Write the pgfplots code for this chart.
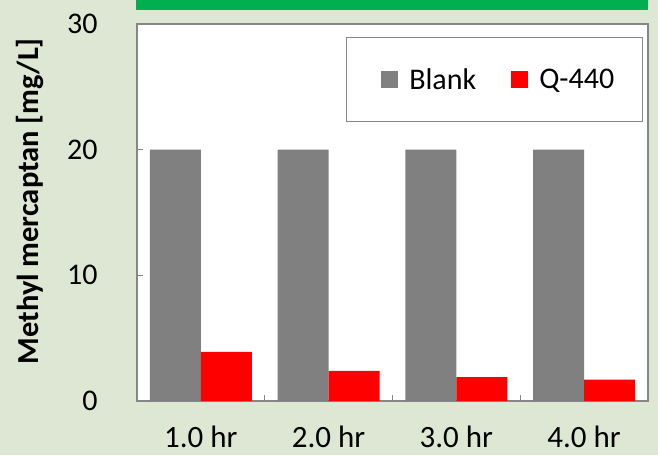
\documentclass[border=0pt]{standalone}
\usepackage{pgfplots}
\pgfplotsset{compat=1.18}
\usepackage{fontspec}
\setmainfont{Carlito}
\definecolor{bgc}{RGB}{222,230,212}
\definecolor{grn}{RGB}{0,176,80}
\definecolor{framec}{RGB}{134,134,134}
\definecolor{barg}{RGB}{128,128,128}
\definecolor{barr}{RGB}{255,0,0}
\begin{document}
\begin{tikzpicture}
\fill[bgc] (0pt,0pt) rectangle (658pt,455pt);
\useasboundingbox (0pt,0pt) rectangle (658pt,455pt);
\fill[grn] (136pt,445pt) rectangle (648pt,455pt);
\begin{axis}[
  at={(137pt,54pt)}, anchor=south west,
  scale only axis, width=511pt, height=377pt,
  xmin=0.5, xmax=4.5, ymin=0, ymax=30,
  ybar=0pt, bar width=51pt,
  axis background/.style={fill=white},
  axis line style={draw=framec, line width=1.3pt},
  tick align=inside, major tick length=6pt,
  tick style={draw=framec, line width=1pt},
  ytick={0,10,20,30}, ytick pos=left,
  xtick={1,2,3,4}, xticklabels={1.0 hr,2.0 hr,3.0 hr,4.0 hr},
  xtick pos=bottom,
  major x tick style={draw=none},
  extra x ticks={1.5,2.5,3.5}, extra x tick labels={},
  extra x tick style={major x tick style={draw=framec, line width=1pt}},
  /pgf/number format/assume math mode=true,
  yticklabel style={font=\fontsize{30}{36}\selectfont, xshift=-36pt},
  xticklabel style={font=\fontsize{31}{36}\selectfont, yshift=-21pt},
  every axis y label/.style={at={(axis description cs:-0.209,0.53)}, rotate=90, anchor=center},
  ylabel={Methyl mercaptan [mg/L]},
  ylabel style={font=\fontsize{30.5}{36}\selectfont\bfseries},
  legend columns=2,
  legend style={at={(0.990,0.966)}, anchor=north east, draw=framec, line width=1.3pt, fill=white,
    font=\fontsize{30}{36}\selectfont, inner xsep=26pt, inner ysep=29pt,
    /tikz/every odd column/.append style={column sep=9pt},
    /tikz/every even column/.append style={column sep=33pt}},
]
\addplot[fill=barg, draw=none,
  legend image code/.code={\path (0pt,0pt); \fill[barg] (9pt,-8.5pt) rectangle (26pt,8.5pt);}]
  coordinates {(1,20) (2,20) (3,20) (4,20)};
\addplot[fill=barr, draw=none,
  legend image code/.code={\fill[barr] (0pt,-8.5pt) rectangle (17pt,8.5pt);}]
  coordinates {(1,3.9) (2,2.4) (3,1.9) (4,1.7)};
\legend{Blank,Q-440}
\end{axis}
\end{tikzpicture}
\end{document}
